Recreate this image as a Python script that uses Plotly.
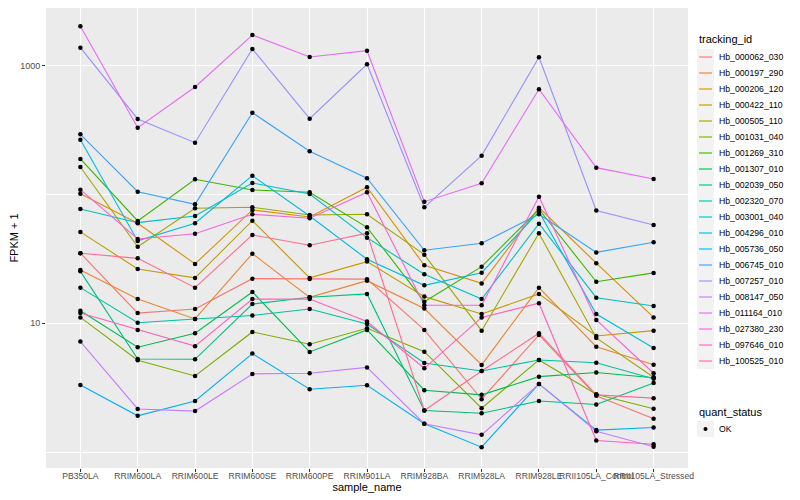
import plotly.graph_objects as go

samples = ["PB350LA", "RRIM600LA", "RRIM600LE", "RRIM600SE", "RRIM600PE", "RRIM901LA",
           "RRIM928BA", "RRIM928LA", "RRIM928LE", "RRII105LA_Control", "RRII105LA_Stressed"]

tracking_ids = ["Hb_000062_030", "Hb_000197_290", "Hb_000206_120", "Hb_000422_110", "Hb_000505_110",
                "Hb_001031_040", "Hb_001269_310", "Hb_001307_010", "Hb_002039_050", "Hb_002320_070",
                "Hb_003001_040", "Hb_004296_010", "Hb_005736_050", "Hb_006745_010", "Hb_007257_010",
                "Hb_008147_050", "Hb_011164_010", "Hb_027380_230", "Hb_097646_010", "Hb_100525_010"]

colors = ["#F8766D", "#EA8331", "#D89000", "#C09B00", "#A3A500", "#7CAE00", "#39B600", "#00BB4E",
          "#00BF7D", "#00C1A3", "#00BFC4", "#00BAE0", "#00B0F6", "#35A2FF", "#9590FF", "#C77CFF",
          "#E76BF3", "#FA62DB", "#FF62BC", "#FF6C91"]

quant_status = ["OK"]

# FPKM + 1 per tracking_id, in sample order
hb_000062_030 = [35.0, 12.0, 12.9, 22.2, 22.1, 22.0, 8.87, 2.57, 8.11, 2.73, 1.81]
hb_000197_290 = [25.9, 15.4, 10.8, 34.7, 15.9, 21.4, 13.0, 4.75, 18.9, 6.58, 4.77]
hb_000206_120 = [101.4, 59.8, 28.9, 75.8, 66.9, 113.7, 28.2, 20.4, 79.0, 29.3, 11.1]
hb_000422_110 = [51.2, 26.4, 22.5, 62.6, 22.5, 30.1, 16.1, 11.8, 16.9, 7.97, 8.76]
hb_000505_110 = [163.5, 39.3, 78.1, 79.5, 69.3, 70.2, 34.1, 8.76, 50.0, 7.69, 3.81]
hb_001031_040 = [11.1, 5.16, 3.90, 8.56, 6.87, 9.15, 6.02, 2.19, 5.19, 2.81, 2.17]
hb_001269_310 = [188.7, 62.3, 131.2, 108.4, 104.0, 55.6, 14.7, 27.5, 76.8, 21.0, 24.6]
hb_001307_010 = [12.5, 6.51, 8.36, 17.5, 5.99, 8.87, 3.02, 2.78, 3.85, 4.14, 3.77]
hb_002039_050 = [25.3, 5.28, 5.25, 14.1, 15.9, 16.9, 2.10, 2.00, 2.49, 2.34, 3.44]
hb_002320_070 = [18.9, 10.1, 10.8, 11.5, 12.9, 9.88, 4.92, 4.26, 5.19, 4.94, 3.71]
hb_003001_040 = [77.2, 60.4, 68.1, 122.8, 100.9, 46.2, 24.0, 15.4, 59.3, 15.8, 13.6]
hb_004296_010 = [266.4, 43.6, 59.8, 140.0, 68.1, 31.4, 19.7, 24.7, 73.5, 11.8, 6.43]
hb_005736_050 = [3.32, 1.91, 2.49, 5.81, 3.07, 3.30, 1.66, 1.09, 3.38, 1.48, 1.55]
hb_006745_010 = [293.4, 105.1, 83.9, 431.7, 216.4, 133.6, 36.9, 41.8, 70.2, 35.5, 42.6]
hb_007257_010 = [1380, 385.8, 252.5, 1348, 387.8, 1025, 79.5, 200.2, 1162, 75.1, 58.0]
hb_008147_050 = [7.20, 2.16, 2.08, 4.04, 4.09, 4.54, 1.66, 1.36, 3.38, 1.45, 1.10]
hb_011164_010 = [2022, 330.0, 683.3, 1731, 1168, 1308, 87.9, 122.2, 655.9, 161.5, 131.9]
hb_027380_230 = [109.0, 45.1, 49.6, 70.2, 65.3, 104.0, 13.8, 13.8, 96.1, 10.6, 4.09]
hb_097646_010 = [12.0, 8.87, 6.64, 15.4, 15.4, 10.3, 4.47, 11.1, 14.3, 1.23, 1.15]
hb_100525_010 = [35.0, 31.9, 18.9, 48.5, 40.3, 50.0, 2.10, 4.26, 8.36, 2.78, 2.62]

series = [hb_000062_030, hb_000197_290, hb_000206_120, hb_000422_110, hb_000505_110,
          hb_001031_040, hb_001269_310, hb_001307_010, hb_002039_050, hb_002320_070,
          hb_003001_040, hb_004296_010, hb_005736_050, hb_006745_010, hb_007257_010,
          hb_008147_050, hb_011164_010, hb_027380_230, hb_097646_010, hb_100525_010]

FONT = "Liberation Sans"
# the page places the figure 8px from the top-left corner of the window
OFF = 8
W, H = 800 - OFF, 500 - OFF
# plot area in window pixels
SX0, SX1, SY0, SY1 = 46, 688, 8, 468
ML, MT = SX0 - OFF, SY0 - OFF
MR, MB = W - (SX1 - OFF), H - (SY1 - OFF)


def px(x):
    return (x - SX0) / (SX1 - SX0)


def py(y):
    return (SY1 - y) / (SY1 - SY0)


fig = go.Figure()

for name, vals, col in zip(tracking_ids, series, colors):
    fig.add_trace(go.Scatter(x=samples, y=vals, mode="lines", name=name,
                             line=dict(color=col, width=1.1), showlegend=False))

for name, vals in zip(tracking_ids, series):
    fig.add_trace(go.Scatter(x=samples, y=vals, mode="markers", name=quant_status[0],
                             marker=dict(color="black", size=4.5, symbol="circle"),
                             showlegend=False))

# ggplot-style legends built from annotations and shapes
shapes = []
annotations = []
LX, KEY = 697, 17
annotations.append(dict(text="tracking_id", x=px(LX), y=py(39), xref="paper", yref="paper",
                        xanchor="left", yanchor="middle", showarrow=False,
                        font=dict(family=FONT, size=11, color="black")))
for i, (name, col) in enumerate(zip(tracking_ids, colors)):
    cy = 57 + 16 * i
    shapes.append(dict(type="rect", xref="paper", yref="paper",
                       x0=px(LX), x1=px(LX + KEY), y0=py(cy + 8), y1=py(cy - 8),
                       fillcolor="#F2F2F2", line=dict(width=0), layer="above"))
    shapes.append(dict(type="line", xref="paper", yref="paper",
                       x0=px(LX + 2), x1=px(LX + KEY - 2), y0=py(cy), y1=py(cy),
                       line=dict(color=col, width=1.1), layer="above"))
    annotations.append(dict(text=name, x=px(LX + 20), y=py(cy), xref="paper", yref="paper",
                            xanchor="left", yanchor="middle", showarrow=False,
                            font=dict(family=FONT, size=8.7, color="black")))

annotations.append(dict(text="quant_status", x=px(LX), y=py(412), xref="paper", yref="paper",
                        xanchor="left", yanchor="middle", showarrow=False,
                        font=dict(family=FONT, size=11, color="black")))
ok_y = 429
shapes.append(dict(type="rect", xref="paper", yref="paper",
                   x0=px(LX), x1=px(LX + KEY), y0=py(ok_y + 8), y1=py(ok_y - 8),
                   fillcolor="#F2F2F2", line=dict(width=0), layer="above"))
shapes.append(dict(type="circle", xref="paper", yref="paper",
                   x0=px(LX + 6.5), x1=px(LX + 10.5), y0=py(ok_y + 2), y1=py(ok_y - 2),
                   fillcolor="black", line=dict(width=0), layer="above"))
annotations.append(dict(text=quant_status[0], x=px(LX + 20), y=py(ok_y), xref="paper", yref="paper",
                        xanchor="left", yanchor="middle", showarrow=False,
                        font=dict(family=FONT, size=8.7, color="black")))

fig.update_layout(
    width=W, height=H,
    margin=dict(l=ML, r=MR, t=MT, b=MB, pad=0, autoexpand=False),
    paper_bgcolor="white", plot_bgcolor="#EBEBEB",
    font=dict(family=FONT, size=9, color="#4D4D4D"),
    showlegend=False,
    shapes=shapes, annotations=annotations,
    xaxis=dict(type="category", range=[-0.6, 10.6], tickangle=0, automargin=False,
               showgrid=True, gridcolor="white", gridwidth=1.1, zeroline=False,
               ticks="outside", ticklen=3, tickcolor="#333333", ticklabelstandoff=-3,
               tickfont=dict(size=8.6, color="#4D4D4D", family=FONT),
               title=dict(text="sample_name", font=dict(size=11, color="black", family=FONT), standoff=2)),
    yaxis=dict(type="log", range=[-0.124, 3.448], automargin=False,
               tickvals=[10, 1000], ticktext=["10", "1000"],
               showgrid=True, gridcolor="white", gridwidth=1.1, zeroline=False,
               ticks="outside", ticklen=3, tickcolor="#333333",
               tickfont=dict(size=9, color="#4D4D4D", family=FONT),
               minor=dict(tickvals=[1, 100], showgrid=True, gridcolor="white", gridwidth=0.55, ticks=""),
               title=dict(text="FPKM + 1", font=dict(size=11, color="black", family=FONT), standoff=2)),
)

fig.write_html("out.html")
